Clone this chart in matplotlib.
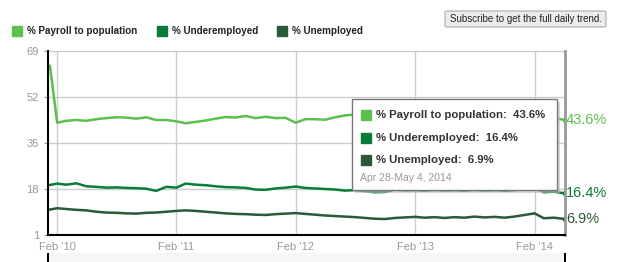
import matplotlib
matplotlib.use("Agg")
import matplotlib.pyplot as plt
from matplotlib.patches import Rectangle, FancyBboxPatch
import pandas as pd

plt.rcParams['font.family'] = ['Liberation Sans', 'DejaVu Sans']

dates = pd.to_datetime(['2010-01-10'] + list(pd.date_range('2010-02-01', '2014-04-01', freq='MS').strftime('%Y-%m-%d')) + ['2014-05-04'])

payroll = [63.5, 42.5, 43.2, 43.5, 43.2, 43.8, 44.2, 44.5, 44.4, 44.0, 44.5, 43.5,
           43.5, 43.0, 42.3, 42.8, 43.3, 44.0, 44.6, 44.4, 45.0, 44.2, 44.7, 44.2,
           44.3, 42.5, 43.8, 43.8, 43.6, 44.5, 45.2, 45.5, 45.0, 44.8, 44.2, 43.8,
           44.0, 44.3, 44.5, 44.8, 45.0, 44.6, 44.9, 45.2, 44.7, 44.5, 44.3, 44.0,
           43.5, 43.8, 44.2, 44.0, 43.6]
underemployed = [19.5, 20.0, 19.6, 20.1, 19.0, 18.8, 18.5, 18.6, 18.4, 18.3, 18.1, 17.3,
                 18.8, 18.5, 20.0, 19.6, 19.4, 19.0, 18.7, 18.6, 18.4, 17.8, 17.7, 18.2,
                 18.5, 18.9, 18.4, 18.2, 18.0, 17.8, 17.4, 17.6, 17.2, 16.8, 16.9, 17.8,
                 17.5, 17.6, 17.3, 17.7, 17.4, 17.6, 17.3, 17.7, 17.4, 17.6, 17.3, 17.6,
                 18.0, 18.4, 16.8, 17.0, 16.4]
unemployed = [10.4, 10.9, 10.6, 10.3, 10.1, 9.6, 9.3, 9.2, 9.0, 8.9, 9.2, 9.3,
              9.6, 9.9, 10.1, 9.9, 9.6, 9.3, 9.0, 8.8, 8.7, 8.5, 8.4, 8.7,
              8.9, 9.1, 8.8, 8.5, 8.2, 8.0, 7.8, 7.6, 7.3, 7.0, 6.9, 7.3,
              7.5, 7.7, 7.4, 7.6, 7.3, 7.6, 7.4, 7.8, 7.5, 7.7, 7.4, 7.8,
              8.4, 9.0, 7.2, 7.4, 6.9]

series_names = ['% Payroll to population', '% Underemployed', '% Unemployed']
colors = ['#5cc04f', '#087c38', '#2b5a36']
yticks = [1, 18, 35, 52, 69]
xtick_dates = ['2010-02-01', '2011-02-01', '2012-02-01', '2013-02-01', '2014-02-01']
xtick_labels = ["Feb '10", "Feb '11", "Feb '12", "Feb '13", "Feb '14"]
tooltip_date = 'Apr 28-May 4, 2014'

W, H = 625, 262
fig = plt.figure(figsize=(W / 100, H / 100), dpi=100)
ax = fig.add_axes([48 / W, 1 - 235 / H, (565 - 48) / W, (235 - 51) / H])

for vals, c in zip([payroll, underemployed, unemployed], colors):
    ax.plot(dates, vals, color=c, lw=1.8, solid_joinstyle='round')
    ax.plot(dates[-1:], vals[-1:], 'o', color=c, ms=3)
    ax.annotate(f'{vals[-1]}%', (dates[-1], vals[-1]), xytext=(1, 0), textcoords='offset points',
                color=c, fontsize=10.5, va='center', ha='left', annotation_clip=False)

ax.set_ylim(1, 69)
ax.set_xlim(pd.Timestamp('2010-01-04'), pd.Timestamp('2014-05-05'))
ax.set_yticks(yticks)
ax.set_xticks(pd.to_datetime(xtick_dates))
ax.set_xticklabels(xtick_labels)
ax.grid(True, color='#cccccc', lw=1)
ax.set_axisbelow(True)
ax.tick_params(axis='both', colors='#999999', labelcolor='#999999', labelsize=8, length=3)
ax.tick_params(axis='x', length=0, pad=5)
ax.spines['top'].set_visible(False)
ax.spines['right'].set_color('#999999')
ax.spines['right'].set_linewidth(2)
ax.spines['left'].set_color('black')
ax.spines['bottom'].set_color('black')
ax.spines['left'].set_linewidth(1.5)
ax.spines['bottom'].set_linewidth(1.5)

# top legend
lx = [12, 157, 277]
for x, name, c in zip(lx, series_names, colors):
    fig.patches.append(Rectangle((x / W, 1 - 36 / H), 10 / W, 10 / H, transform=fig.transFigure,
                                 color=c, figure=fig))
    fig.text((x + 15) / W, 1 - 31 / H, name, fontsize=7.1, fontweight='bold', va='center',
             ha='left', color='#222222')

# subscribe button
fig.patches.append(FancyBboxPatch((445 / W, 1 - 27 / H), 161 / W, 16 / H,
                                  boxstyle='round,pad=0,rounding_size=0.004', transform=fig.transFigure,
                                  facecolor='#ececec', edgecolor='#aaaaaa', lw=0.8, figure=fig))
fig.text(525.5 / W, 1 - 19 / H, 'Subscribe to get the full daily trend.', fontsize=7,
         ha='center', va='center', color='#222222')

# bottom range strip
fig.patches.append(Rectangle((48 / W, 1 - 262 / H), (565 - 48) / W, 9 / H, transform=fig.transFigure,
                             facecolor='#f6f6f6', edgecolor='none', figure=fig))
fig.patches.append(Rectangle((47 / W, 1 - 262 / H), 2 / W, 9 / H, transform=fig.transFigure,
                             facecolor='black', edgecolor='none', figure=fig))
fig.patches.append(Rectangle((564 / W, 1 - 262 / H), 2 / W, 9 / H, transform=fig.transFigure,
                             facecolor='black', edgecolor='none', figure=fig))

# tooltip
tx0, ty0, tx1, ty1 = 352, 99, 557, 190
fig.patches.append(Rectangle(((tx0 + 3) / W, 1 - (ty1 + 3) / H), (tx1 - tx0) / W, (ty1 - ty0) / H,
                             transform=fig.transFigure, facecolor='#bbbbbb', edgecolor='none',
                             alpha=0.6, figure=fig, zorder=5))
fig.patches.append(Rectangle((tx0 / W, 1 - ty1 / H), (tx1 - tx0) / W, (ty1 - ty0) / H,
                             transform=fig.transFigure, facecolor='white', edgecolor='#777777',
                             lw=1, figure=fig, zorder=6))
rows_y = [115, 138, 160]
last_vals = [payroll[-1], underemployed[-1], unemployed[-1]]
for y, name, c, v in zip(rows_y, series_names, colors, last_vals):
    fig.patches.append(Rectangle((361 / W, 1 - (y + 5) / H), 10 / W, 10 / H, transform=fig.transFigure,
                                 color=c, figure=fig, zorder=7))
    fig.text(376 / W, 1 - y / H, f'{name}:  {v}%', fontsize=8.2, fontweight='bold', va='center',
             ha='left', color='#333333', zorder=7)
fig.text(360 / W, 1 - 178 / H, tooltip_date, fontsize=7.5, va='center', ha='left',
         color='#999999', zorder=7)

fig.savefig('out.png', dpi=100)
